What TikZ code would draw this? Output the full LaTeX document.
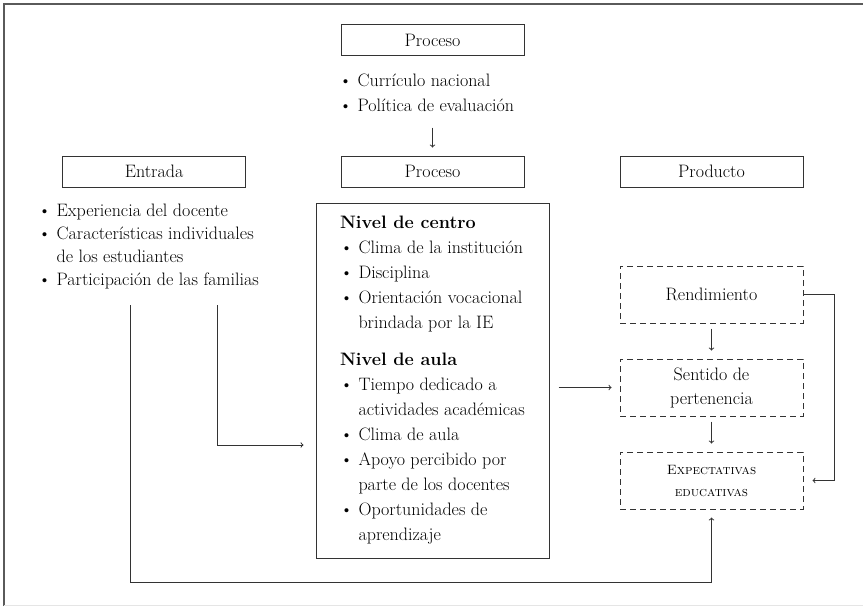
\documentclass[tikz,border=0pt]{standalone}
\usepackage{tikz}
\usetikzlibrary{arrows, shapes}
\usetikzlibrary{positioning}

\definecolor{marco}{HTML}{5A5A5A}
\definecolor{trazo}{HTML}{333333}
\newcommand{\vineta}{\textbullet\ }
\newcommand{\sangria}{\hphantom{\textbullet\ }}

\tikzset{
	caja/.style={draw=trazo, line width=1pt, minimum width=183pt, minimum height=31pt, inner sep=0pt, font=\fontsize{18}{24}\selectfont},
	cajapunteada/.style={draw=trazo, line width=1pt, dash pattern=on 6pt off 4pt, minimum width=183pt, minimum height=57pt, align=center, inner sep=0pt, font=\fontsize{18}{24}\selectfont},
	lista/.style={align=left, inner sep=0pt, anchor=north west, font=\fontsize{18}{25}\selectfont},
	flecha/.style={->, draw=trazo, line width=1pt},
}

\begin{document}
\begin{tikzpicture}[x=1pt, y=-1pt]
				\useasboundingbox (0,0) rectangle (863,606);
				% Marco
				\draw[marco, line width=2.2pt] (4,606) -- (4,4) -- (863,4);
				\draw[black!10, line width=0.8pt] (4,605) -- (863,605);
				% Nodos
				\node[caja] (proceso0) at (432.5,40) {Proceso};
				\node[lista] (lista0) at (339,73.5) {\vineta Currículo nacional \\ \vineta Política de evaluación};
				\node[caja] (entrada) at (154,171.5) {Entrada};
				\node[caja] (proceso) at (432.5,171.5) {Proceso};
				\node[caja] (producto) at (711.5,171.5) {Producto};
				\node[lista, font=\fontsize{18}{23}\selectfont] (lista1) at (38,203.5) {\vineta Experiencia del docente \\ \vineta Características individuales \\ \sangria de los estudiantes \\ \vineta Participación de las familias};
				\node[caja, minimum width=233pt, minimum height=355pt, align=left, font=\fontsize{18}{25}\selectfont] (centro) at (432.5,380.5) {\textbf{Nivel de centro} \\ \vineta Clima de la institución \\ \vineta Disciplina \\ \vineta Orientación vocacional \\ \sangria brindada por la IE \\[12pt] \textbf{Nivel de aula} \\ \vineta Tiempo dedicado a \\ \sangria actividades académicas \\ \vineta Clima de aula \\ \vineta Apoyo percibido por \\ \sangria parte de los docentes \\ \vineta Oportunidades de \\ \sangria aprendizaje};
				\node[cajapunteada] (rendimiento) at (711.5,294.5) {Rendimiento};
				\node[cajapunteada] (sentido) at (711.5,387.5) {Sentido de \\ pertenencia};
				\node[cajapunteada, font=\fontsize{13.5}{22}\selectfont] (expectativas) at (711.5,480.5) {\textsc{Expectativas} \\ \textsc{educativas}};
				\coordinate (salida1) at (130,305);
				\coordinate (esquina1) at (130,582);
				\coordinate (salida2) at (217,305);
				\coordinate (esquina2) at (217,445);
				% Flechas
				\draw[flecha, shorten <=16pt, shorten >=8pt] (lista0.south -| proceso.north) -- (proceso.north);
				\draw[flecha, shorten >=8pt] (salida1) -- (esquina1) -| (expectativas.south);
				\draw[flecha, shorten >=12pt] (salida2) -- (esquina2) -- (esquina2 -| centro.west);
				\draw[flecha, shorten <=9pt, shorten >=8pt] (centro.east |- sentido.west) -- (sentido.west);
				\draw[flecha, shorten <=5pt, shorten >=8pt] (rendimiento) -- (sentido);
				\draw[flecha, shorten <=5pt, shorten >=8pt] (sentido) -- (expectativas);
				\draw[flecha, shorten >=9pt] (rendimiento.east) -- ++(31,0) |- (expectativas.east);
\end{tikzpicture}
\end{document}
